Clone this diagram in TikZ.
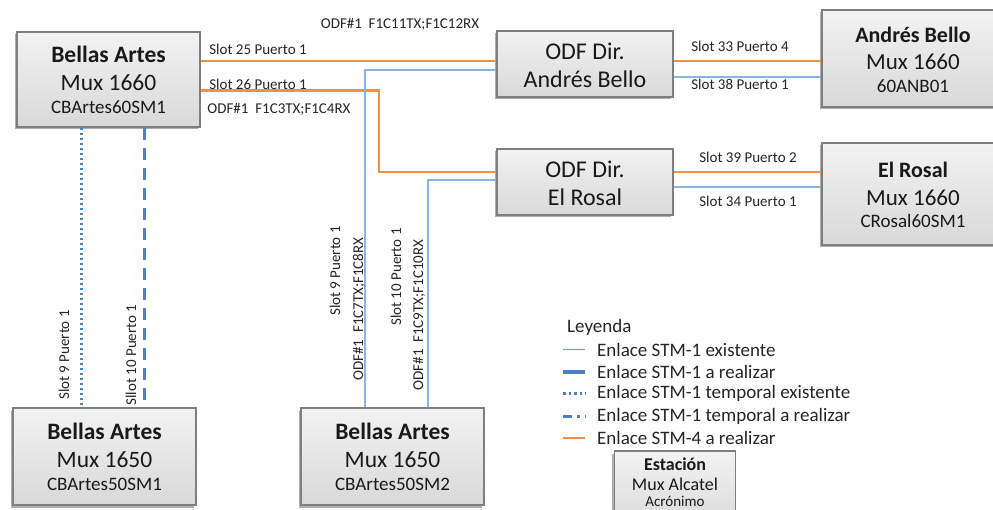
\documentclass[tikz,border=0pt]{standalone}
\usepackage{fontspec}
\setmainfont{Carlito}
\usetikzlibrary{shadows}
\definecolor{orng}{HTML}{F0914A}
\definecolor{lblue}{HTML}{8DB3E2}
\definecolor{mblue}{HTML}{4F81BD}
\definecolor{bord}{HTML}{7F7F7F}
\newcommand{\sz}[1]{\fontsize{#1}{#1}\selectfont}
\tikzset{
  box/.style={draw=bord, line width=1.8pt, top color=black!5, bottom color=black!15,
    drop shadow={shadow xshift=-2.5pt, shadow yshift=-2.5pt, opacity=0.45, fill=black!70},
    inner sep=0pt},
  bt/.style={anchor=base, inner sep=0pt, text=black!90, font=\sz{23.5}},
  btb/.style={bt, font=\sz{23.5}\bfseries},
  bc/.style={bt, font=\sz{19}},
  lbl/.style={font=\sz{15}, inner sep=0pt, text=black!85},
  leg/.style={font=\sz{19}, inner sep=0pt, anchor=west, text=black!85},
  orange link/.style={draw=orng, line width=2.2pt},
  thin link/.style={draw=lblue, line width=1.2pt},
  dotlink/.style={draw=mblue, line width=3pt, dash pattern=on 2.5pt off 2.5pt},
  dashlink/.style={draw=mblue, line width=3pt, dash pattern=on 12pt off 8pt},
}
\begin{document}
\begin{tikzpicture}[x=1pt,y=-1pt]
\clip (0,0) rectangle (993,510);
\fill[white] (0,0) rectangle (993,510);

% boxes
\node[box, minimum width=183pt, minimum height=95pt] (ba60) at (108.5,79.5) {};
\node[btb] (ba60a) at (ba60.center |- 0,62.5) {Bellas Artes};
\node[bt]  (ba60b) at (ba60.center |- 0,90.5) {Mux 1660};
\node[bc]  (ba60c) at (ba60.center |- 0,113.5) {CBArtes60SM1};

\node[box, minimum width=176pt, minimum height=66pt] (odfab) at (585,64) {};
\node[bt, font=\sz{24}] (odfaba) at (odfab.center |- 0,59.5) {ODF Dir.};
\node[bt, font=\sz{24}] (odfabb) at (odfab.center |- 0,87.5) {Andrés Bello};

\node[box, minimum width=182pt, minimum height=97pt] (ab) at (913,58.5) {};
\node[btb, font=\sz{22}\bfseries] (aba) at (ab.center |- 0,43) {Andrés Bello};
\node[bt, font=\sz{23}] (abb) at (ab.center |- 0,69.5) {Mux 1660};
\node[bc] (abc) at (ab.center |- 0,93) {60ANB01};

\node[box, minimum width=176pt, minimum height=66pt] (odfer) at (585,182) {};
\node[bt, font=\sz{24}] (odfera) at (odfer.center |- 0,177.5) {ODF Dir.};
\node[bt, font=\sz{24}] (odferb) at (odfer.center |- 0,205.5) {El Rosal};

\node[box, minimum width=182pt, minimum height=102pt] (er) at (913,194) {};
\node[btb, font=\sz{22}\bfseries] (era) at (er.center |- 0,177.5) {El Rosal};
\node[bt, font=\sz{23}] (erb) at (er.center |- 0,206) {Mux 1660};
\node[bc] (erc) at (er.center |- 0,228) {CRosal60SM1};

\node[box, minimum width=183pt, minimum height=97pt] (ba50a) at (104.5,456.5) {};
\node[btb] (ba50aa) at (ba50a.center |- 0,439) {Bellas Artes};
\node[bt]  (ba50ab) at (ba50a.center |- 0,467) {Mux 1650};
\node[bc]  (ba50ac) at (ba50a.center |- 0,490) {CBArtes50SM1};

\node[box, minimum width=183pt, minimum height=97pt] (ba50b) at (392.5,456.5) {};
\node[btb] (ba50ba) at (ba50b.center |- 0,439) {Bellas Artes};
\node[bt]  (ba50bb) at (ba50b.center |- 0,467) {Mux 1650};
\node[bc]  (ba50bc) at (ba50b.center |- 0,490) {CBArtes50SM2};

\node[box, line width=1.5pt, minimum width=121pt, minimum height=80pt] (est) at (675,491) {};
\node[btb, font=\sz{18}\bfseries] (esta) at (est.center |- 0,470) {Estación};
\node[bt, font=\sz{18}] (estb) at (est.center |- 0,490) {Mux Alcatel};
\node[bt, font=\sz{15}] (estc) at (est.center |- 0,506.5) {Acrónimo};

% connectors
\coordinate (j1) at (379,90.5);
\draw[orange link] (ba60.east |- 0,61) -- (odfab.west |- 0,61);
\draw[orange link] (ba60.east |- 0,90.5) -- (j1) |- (odfer.west |- 0,172);
\draw[orange link] (odfab.east |- 0,61) -- (ab.west |- 0,61);
\draw[orange link] (odfer.east |- 0,172) -- (er.west |- 0,172);
\draw[thin link] (odfab.east |- 0,77) -- (ab.west |- 0,77);
\draw[thin link] (odfer.east |- 0,187) -- (er.west |- 0,187);
\coordinate (v1) at (ba50b.north -| 365,0);
\coordinate (v2) at (ba50b.north -| 428,0);
\draw[thin link] (odfab.west |- 0,70) -| (v1);
\draw[thin link] (odfer.west |- 0,180) -| (v2);
\coordinate (d1a) at (ba60.south -| 81,0);
\coordinate (d1b) at (ba50a.north -| 81,0);
\coordinate (d2a) at (ba60.south -| 144,0);
\coordinate (d2b) at (ba50a.north -| 144,0);
\draw[dotlink] (d1a) -- (d1b);
\draw[dashlink] (d2a) -- (d2b);

% labels
\node[lbl] (l1) at (400,24) {ODF\#1\hspace{0.45em}F1C11TX;F1C12RX};
\node[lbl] (l2) at (258,49) {Slot 25 Puerto 1};
\node[lbl] (l3) at (258,84) {Slot 26 Puerto 1};
\node[lbl] (l4) at (279,109) {ODF\#1\hspace{0.45em}F1C3TX;F1C4RX};
\node[lbl] (l5) at (740,46) {Slot 33 Puerto 4};
\node[lbl] (l6) at (740,84) {Slot 38 Puerto 1};
\node[lbl] (l7) at (748,157) {Slot 39 Puerto 2};
\node[lbl] (l8) at (748,201) {Slot 34 Puerto 1};
\node[lbl, rotate=90] (l9) at (64,355) {Slot 9 Puerto 1};
\node[lbl, rotate=90] (l10) at (131,355) {Sllot 10 Puerto 1};
\node[lbl, rotate=90] (l11) at (335,271) {Slot 9 Puerto 1};
\node[lbl, rotate=90] (l12) at (359,309) {ODF\#1\hspace{0.45em}F1C7TX;F1C8RX};
\node[lbl, rotate=90] (l13) at (396,277) {Slot 10 Puerto 1};
\node[lbl, rotate=90] (l14) at (419,315) {ODF\#1\hspace{0.45em}F1C9TX;F1C10RX};

% legend
\node[leg] (lg0) at (567,327) {Leyenda};
\node[leg] (lg1) at (597,350) {Enlace STM-1 existente};
\node[leg] (lg2) at (597,372) {Enlace STM-1 a realizar};
\node[leg] (lg3) at (597,393) {Enlace STM-1 temporal existente};
\node[leg] (lg4) at (597,416) {Enlace STM-1 temporal a realizar};
\node[leg] (lg5) at (597,438) {Enlace STM-4 a realizar};
\draw[draw=mblue!80, line width=1pt] (563,350) -- (585,350);
\draw[draw=mblue, line width=3.5pt] (563,372) -- (585,372);
\draw[draw=mblue, line width=3pt, dash pattern=on 2.5pt off 3pt] (563,393) -- (586,393);
\draw[draw=mblue, line width=3pt, dash pattern=on 9pt off 5pt on 2.5pt off 5pt] (563,416) -- (586,416);
\draw[draw=orng, line width=2.5pt] (563,438) -- (585,438);
\end{tikzpicture}
\end{document}
